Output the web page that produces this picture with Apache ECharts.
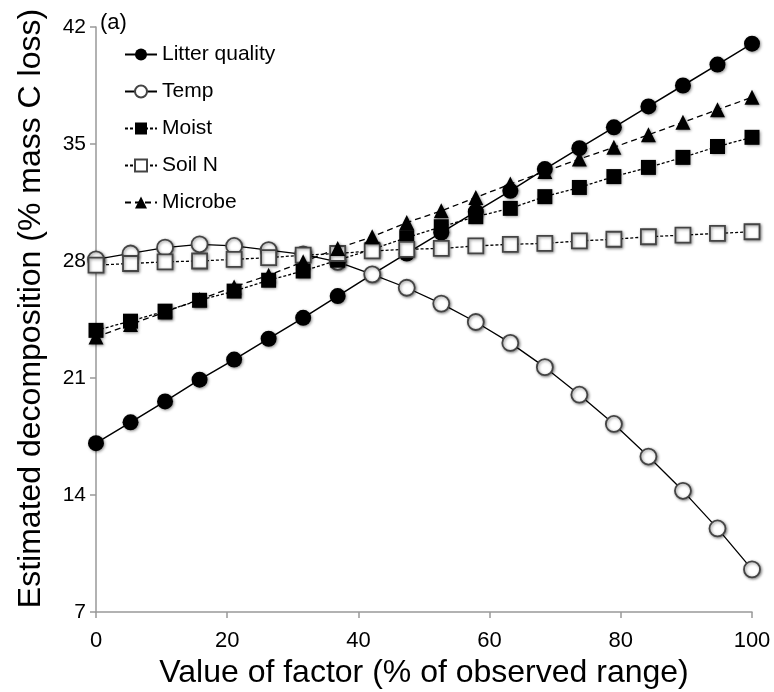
<!DOCTYPE html>
<html><head><meta charset="utf-8">
<script src="https://cdn.jsdelivr.net/npm/echarts@6/dist/echarts.min.js"></script>
<style>html,body{margin:0;padding:0;background:#fff}#c{width:774px;height:692px}</style>
</head><body><div id="c"></div>
<script>
const xValues = [0,5.263,10.526,15.789,21.053,26.316,31.579,36.842,42.105,47.368,52.632,57.895,63.158,68.421,73.684,78.947,84.211,89.474,94.737,100];
const litterQuality = [17.1,18.35,19.6,20.9,22.1,23.35,24.6,25.9,27.2,28.45,29.7,30.95,32.2,33.5,34.75,36.0,37.25,38.5,39.75,41.0];
const temp = [28.1,28.45,28.8,29.0,28.9,28.65,28.4,27.95,27.2,26.4,25.45,24.35,23.1,21.65,20.0,18.25,16.3,14.25,12.0,9.55];
const moist = [23.85,24.4,25.0,25.65,26.2,26.85,27.4,28.05,28.7,29.4,30.05,30.65,31.15,31.85,32.4,33.05,33.6,34.2,34.85,35.4];
const soilN = [27.75,27.85,27.95,28.0,28.1,28.2,28.35,28.45,28.6,28.7,28.75,28.9,29.0,29.05,29.2,29.3,29.45,29.55,29.65,29.75];
const microbe = [23.45,24.2,24.95,25.7,26.45,27.15,27.95,28.75,29.45,30.3,31.0,31.8,32.6,33.35,34.1,34.8,35.55,36.3,37.05,37.8];
const seriesNames = ['Litter quality','Temp','Moist','Soil N','Microbe'];
const xTicks = {min:0,max:100,interval:20};
const yTicks = {min:7,max:42,interval:7};

const FONT = 'Liberation Sans, Arial, sans-serif';
const pair = ys => xValues.map((x,i)=>[x,ys[i]]);
const shadow = {shadowBlur:3, shadowColor:'rgba(0,0,0,0.45)', shadowOffsetX:1, shadowOffsetY:1};
const filled = Object.assign({color:'#000', borderColor:'#000', borderWidth:0}, shadow);
const open = Object.assign({color:'#fff', borderColor:'#444', borderWidth:1.8}, shadow);

function mk(name, data, symbol, size, itemStyle, lineStyle){
  return {name, type:'line', data:pair(data), symbol, symbolSize:size,
    itemStyle, lineStyle:Object.assign({color:'#000'}, lineStyle), emphasis:{disabled:true}, animation:false};
}

const chart = echarts.init(document.getElementById('c'), null, {renderer:'canvas'});
chart.setOption({
  backgroundColor:'#fff',
  animation:false,
  grid:{left:96, right:22, top:27, bottom:80, containLabel:false, outerBoundsMode:'none'},
  graphic:[{type:'text', left:100, top:12, style:{text:'(a)', fontSize:22, fontFamily:FONT, fill:'#000'}}],
  legend:{
    orient:'vertical', left:124, top:44, padding:0, itemWidth:32, itemHeight:15, itemGap:16,
    textStyle:{fontFamily:FONT, fontSize:21, color:'#000'},
    data:seriesNames
  },
  xAxis:{type:'value', min:xTicks.min, max:xTicks.max, interval:xTicks.interval,
    name:'Value of factor (% of observed range)', nameLocation:'middle', nameGap:43,
    nameTextStyle:{fontFamily:FONT, fontSize:32, color:'#000'},
    axisLine:{lineStyle:{color:'#999', width:1.5}},
    axisTick:{show:true, length:6, lineStyle:{color:'#999', width:1.5}},
    axisLabel:{fontFamily:FONT, fontSize:22, color:'#000', margin:18},
    splitLine:{show:false}},
  yAxis:{type:'value', min:yTicks.min, max:yTicks.max, interval:yTicks.interval,
    name:'Estimated decomposition (% mass C loss)', nameLocation:'middle', nameGap:49,
    nameTextStyle:{fontFamily:FONT, fontSize:32, color:'#000', padding:[0,0,0,22]},
    axisLine:{show:true, lineStyle:{color:'#999', width:1.5}},
    axisTick:{show:true, length:6, lineStyle:{color:'#999', width:1.5}},
    axisLabel:{fontFamily:FONT, fontSize:21, color:'#000', margin:10},
    splitLine:{show:false}},
  series:[
    mk(seriesNames[0], litterQuality, 'circle', 16, filled, {width:1.5, type:'solid'}),
    mk(seriesNames[1], temp, 'circle', 16, open, {width:1.3, type:'solid'}),
    mk(seriesNames[2], moist, 'rect', 15, filled, {width:1.3, type:[3,2]}),
    mk(seriesNames[3], soilN, 'rect', 15, open, {width:1.3, type:[3,2]}),
    mk(seriesNames[4], microbe, 'triangle', 15, filled, {width:1.3, type:[6,4]})
  ]
});
</script></body></html>
